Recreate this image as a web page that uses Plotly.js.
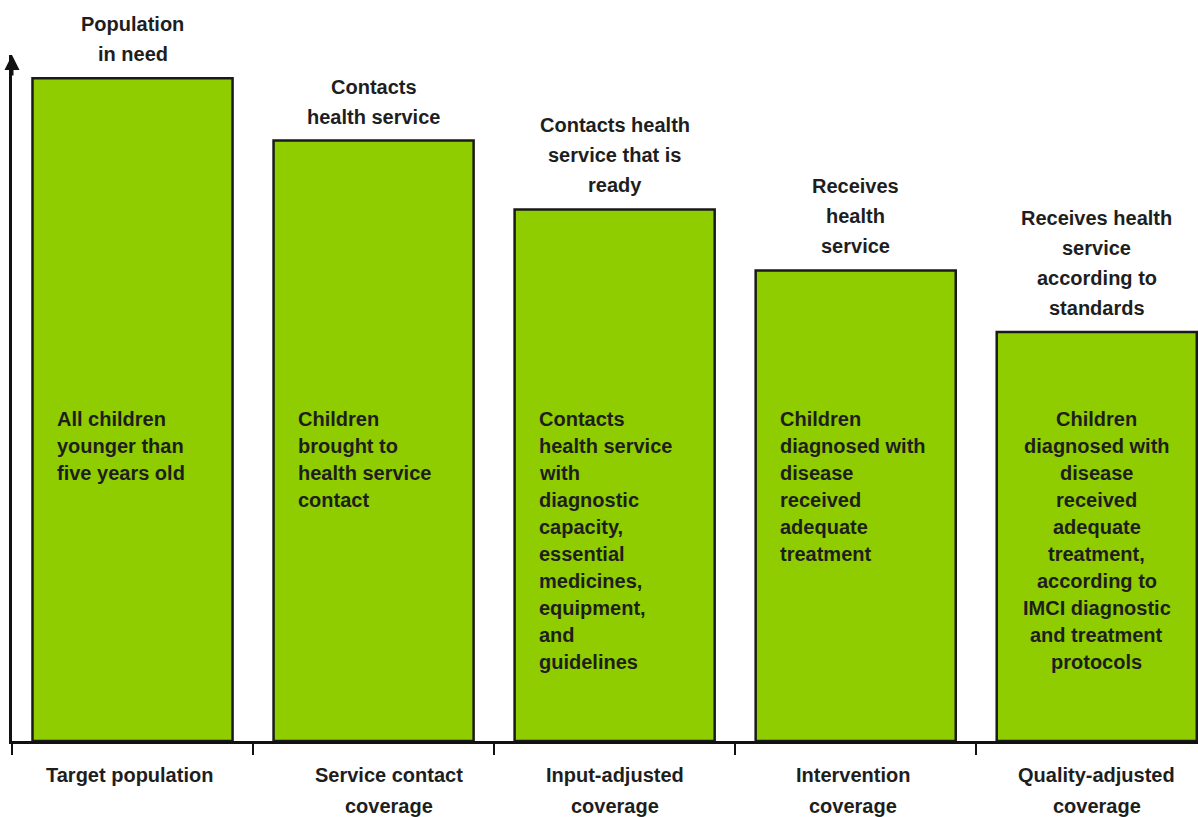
<!DOCTYPE html>
<html>
<head>
<meta charset="utf-8">
<script src="https://cdn.plot.ly/plotly-3.0.1.min.js"></script>
<style>html,body{margin:0;padding:0;background:#fff;}#chart{width:1198px;height:817px;}</style>
</head>
<body>
<div id="chart"></div>
<script>
// ---- data ----
const categories = ["Target population", "Service contact coverage", "Input-adjusted coverage", "Intervention coverage", "Quality-adjusted coverage"];
const categoryLines = [
  ["Target population"],
  ["Service contact", "coverage"],
  ["Input-adjusted", "coverage"],
  ["Intervention", "coverage"],
  ["Quality-adjusted", "coverage"]
];
const values = [100, 90.6, 80.2, 71.0, 61.7];
const topLabels = [
  ["Population", "in need"],
  ["Contacts", "health service"],
  ["Contacts health", "service that is", "ready"],
  ["Receives", "health", "service"],
  ["Receives health", "service", "according to", "standards"]
];
const innerLabels = [
  ["All children", "younger than", "five years old"],
  ["Children", "brought to", "health service", "contact"],
  ["Contacts", "health service", "with", "diagnostic", "capacity,", "essential", "medicines,", "equipment,", "and", "guidelines"],
  ["Children", "diagnosed with", "disease", "received", "adequate", "treatment"],
  ["Children", "diagnosed with", "disease", "received", "adequate", "treatment,", "according to", "IMCI diagnostic", "and treatment", "protocols"]
];
const innerAlign = ["left", "left", "left", "left", "center"];

// ---- styling ----
const FONT = "Liberation Sans, Arial, sans-serif";
const TXT = "#1e1e1e";
const FS = 20;
const annotations = [];

// labels above bars
topLabels.forEach((lines, i) => {
  const n = lines.length;
  lines.forEach((ln, j) => {
    annotations.push({
      x: categories[i], y: values[i], xref: "x", yref: "y",
      text: "<b>" + ln + "</b>", showarrow: false,
      xanchor: "center", yanchor: "middle",
      yshift: 24 + (n - 1 - j) * 30,
      font: {family: FONT, size: FS, color: TXT}
    });
  });
});

// labels inside bars
innerLabels.forEach((lines, i) => {
  lines.forEach((ln, j) => {
    const left = innerAlign[i] === "left";
    annotations.push({
      x: categories[i], y: 48.6, xref: "x", yref: "y",
      text: "<b>" + ln + "</b>", showarrow: false,
      xanchor: left ? "left" : "center", yanchor: "middle",
      xshift: left ? -78 : 0,
      yshift: -j * 27,
      font: {family: FONT, size: FS, color: TXT}
    });
  });
});

// category labels under axis
const catShift = [-3, 15, 0, -3, 0];
categoryLines.forEach((lines, i) => {
  lines.forEach((ln, j) => {
    annotations.push({
      x: categories[i], y: 0, xref: "x", yref: "paper",
      text: "<b>" + ln + "</b>", showarrow: false,
      xanchor: "center", yanchor: "middle",
      xshift: catShift[i],
      yshift: -34 - j * 31,
      font: {family: FONT, size: FS, color: TXT}
    });
  });
});

// arrow head on the y axis
annotations.push({
  x: 0, y: 1, xref: "paper", yref: "paper",
  ax: 0, ay: 22, axref: "pixel", ayref: "pixel",
  showarrow: true, arrowhead: 2, arrowsize: 1, arrowwidth: 3,
  arrowcolor: "#111", text: ""
});

const trace = {
  type: "bar",
  x: categories,
  y: values,
  width: 0.83,
  marker: {color: "#8fcc00", line: {color: "#1a1a1a", width: 2.5}},
  hoverinfo: "skip"
};

const layout = {
  width: 1198, height: 817,
  margin: {l: 12, r: 0, t: 55, b: 76},
  paper_bgcolor: "#fff", plot_bgcolor: "#fff",
  showlegend: false,
  xaxis: {
    type: "category", range: [-0.5, 4.42],
    showline: true, linewidth: 3, linecolor: "#111",
    ticks: "outside", tickson: "boundaries", ticklen: 11, tickwidth: 2.5, tickcolor: "#111",
    showticklabels: false, showgrid: false, zeroline: false, fixedrange: true
  },
  yaxis: {
    range: [0, 103.5],
    showline: true, linewidth: 3, linecolor: "#111",
    ticks: "", showticklabels: false, showgrid: false, zeroline: false, fixedrange: true
  },
  annotations: annotations,
  font: {family: FONT}
};

Plotly.newPlot("chart", [trace], layout, {displayModeBar: false, staticPlot: true});
</script>
</body>
</html>
